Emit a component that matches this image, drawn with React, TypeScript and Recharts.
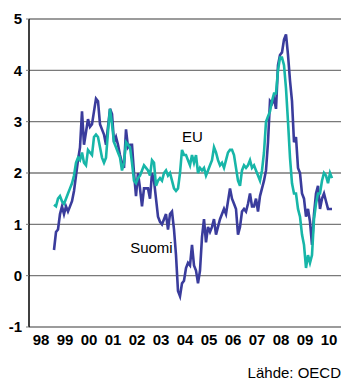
import React from "react";
import {
  LineChart,
  Line,
  XAxis,
  YAxis,
  CartesianGrid,
  ReferenceDot,
} from "recharts";

// monthly values, Jan 1999 - Aug 2010
const suomi = [
  // 1999
  0.5, 0.85, 0.9, 1.2, 1.35, 1.2, 1.35, 1.25, 1.35, 1.45, 1.65, 1.95,
  // 2000
  2.25, 2.5, 3.2, 2.55, 2.8, 3.05, 2.9, 2.95, 3.2, 3.45, 3.4, 2.95,
  // 2001
  2.85, 2.75, 2.55, 2.9, 3.25, 3.15, 2.6, 2.7, 2.55, 2.35, 2.2, 2.1,
  // 2002
  2.85, 2.5, 2.55, 2.55, 2.0, 1.55, 2.0, 1.7, 1.35, 1.7, 1.7, 1.7,
  // 2003
  1.5, 2.0, 1.85, 1.5, 1.15, 1.05, 1.0, 1.1, 1.2, 0.9, 1.2, 1.25,
  // 2004
  0.9, 0.4, -0.3, -0.4, -0.15, -0.1, 0.15, 0.25, 0.2, 0.6, 0.2, 0.1,
  // 2005
  -0.15, 0.1, 0.75, 1.1, 0.65, 0.95, 0.85, 0.95, 1.1, 0.8, 0.95, 1.1,
  // 2006
  1.2, 1.3, 1.2, 1.45, 1.7, 1.5, 1.4, 1.3, 0.8, 0.95, 1.25, 1.3,
  // 2007
  1.25, 1.4, 1.6, 1.35, 1.35, 1.5, 1.25, 1.55, 1.7, 1.85, 2.05, 2.6,
  // 2008
  3.4, 3.35, 3.45, 3.25, 4.1, 4.3, 4.35, 4.6, 4.7, 4.3, 3.8, 3.4,
  // 2009
  2.6, 2.7, 2.1, 2.0, 1.6, 1.5, 1.15, 1.3, 1.05, 0.6, 1.2, 1.6,
  // 2010
  1.75, 1.3, 1.5, 1.6, 1.45, 1.3, 1.3, 1.3,
];

const eu = [
  // 1999
  1.38, 1.35, 1.5, 1.55, 1.45, 1.4, 1.5, 1.6, 1.7, 1.8, 1.95, 2.2,
  // 2000
  2.3, 2.25, 2.4, 2.2, 2.15, 2.45, 2.4, 2.35, 2.7, 2.75, 2.7, 2.5,
  // 2001
  2.3, 2.2, 2.3, 2.8, 3.25, 2.95, 2.6, 2.5, 2.4, 2.3, 2.05, 2.2,
  // 2002
  2.6, 2.55, 2.5, 2.2, 1.85, 1.8, 1.9, 1.95, 2.05, 2.15, 2.1, 2.05,
  // 2003
  1.95, 2.25, 2.2, 1.75, 1.85, 1.9, 1.85, 2.0, 2.05, 1.95, 2.0, 1.85,
  // 2004
  1.7, 1.65, 1.7, 2.0, 2.45, 2.35, 2.35, 2.25, 2.15, 2.35, 2.2, 2.35,
  // 2005
  2.0, 2.1, 2.05, 2.1, 1.95, 2.05, 2.15, 2.25, 2.5, 2.4, 2.25, 2.15,
  // 2006
  2.2, 2.1, 2.25, 2.4, 2.45, 2.45, 2.35, 2.1, 1.85, 1.75, 2.05, 2.15,
  // 2007
  2.1, 2.15, 2.25, 2.1, 2.15, 2.05, 1.95, 1.85, 2.05, 2.4, 3.0, 3.1,
  // 2008
  3.2, 3.4, 3.55, 3.55, 4.0, 4.25, 4.25, 4.1, 3.65, 3.0, 2.3, 1.8,
  // 2009
  1.6, 1.6, 1.3, 1.15, 0.8, 0.6, 0.15, 0.4, 0.25, 0.4, 1.1, 1.4,
  // 2010
  1.6, 1.6, 1.85, 2.0, 1.95, 1.8, 2.0, 1.9,
];

const yearLabels = ["98", "99", "00", "01", "02", "03", "04", "05", "06", "07", "08", "09", "10"];
const yTicks = [-1, 0, 1, 2, 3, 4, 5];

// x axis runs in years from start of 1998; data starts Jan 1999
const data = suomi.map((v, i) => ({
  t: 1 + (i + 0.5) / 12,
  suomi: v,
  eu: eu[i],
}));

const boundaryTicks = yearLabels.map((_, i) => i).concat(yearLabels.length);
const labelTicks = yearLabels.map((_, i) => i + 0.5);

const font = "'Liberation Sans', Arial, sans-serif";

export default function App() {
  return (
    <div
      style={{
        position: "absolute",
        left: 0,
        top: 0,
        width: 342,
        height: 383,
        background: "#fff",
        fontFamily: font,
      }}
    >
      <LineChart
        width={342}
        height={383}
        data={data}
        margin={{ top: 19, right: 1, left: 0, bottom: 36 }}
      >
        <CartesianGrid vertical={false} stroke="#7a7a7a" strokeWidth={1.3} />
        <XAxis
          type="number"
          dataKey="t"
          domain={[0, 13]}
          ticks={boundaryTicks}
          mirror
          height={0}
          tickSize={5}
          tickFormatter={() => ""}
          axisLine={{ stroke: "#000", strokeWidth: 1.5 }}
          tickLine={{ stroke: "#000", strokeWidth: 1 }}
        />
        <XAxis
          xAxisId="lbl"
          type="number"
          dataKey="t"
          domain={[0, 13]}
          ticks={labelTicks}
          height={20}
          axisLine={false}
          tickLine={false}
          tickSize={0}
          tickMargin={7}
          tickFormatter={(v: number) => yearLabels[Math.floor(v)]}
          tick={{ fill: "#000", fontSize: 15, fontWeight: 700, fontFamily: font }}
        />
        <YAxis
          type="number"
          domain={[-1, 5]}
          ticks={yTicks}
          width={29}
          tickSize={3}
          tickMargin={4}
          axisLine={{ stroke: "#000", strokeWidth: 1.5 }}
          tickLine={{ stroke: "#7a7a7a" }}
          tick={{ fill: "#000", fontSize: 15, fontWeight: 700, fontFamily: font }}
        />
        <Line
          type="linear"
          dataKey="suomi"
          stroke="#3a3c9c"
          strokeWidth={2.6}
          dot={false}
          isAnimationActive={false}
        />
        <Line
          type="linear"
          dataKey="eu"
          stroke="#17b6a8"
          strokeWidth={2.6}
          dot={false}
          isAnimationActive={false}
        />
        <ReferenceDot
          x={6.81}
          y={2.71}
          r={0}
          label={{ value: "EU", position: "center", fill: "#000", fontSize: 15, fontFamily: font }}
        />
        <ReferenceDot
          x={5.1}
          y={0.55}
          r={0}
          label={{ value: "Suomi", position: "center", fill: "#000", fontSize: 15, fontFamily: font }}
        />
      </LineChart>
      <div
        style={{
          position: "absolute",
          right: 1,
          top: 364,
          fontSize: 15,
          lineHeight: "18px",
          color: "#000",
        }}
      >
        Lähde: OECD
      </div>
    </div>
  );
}
